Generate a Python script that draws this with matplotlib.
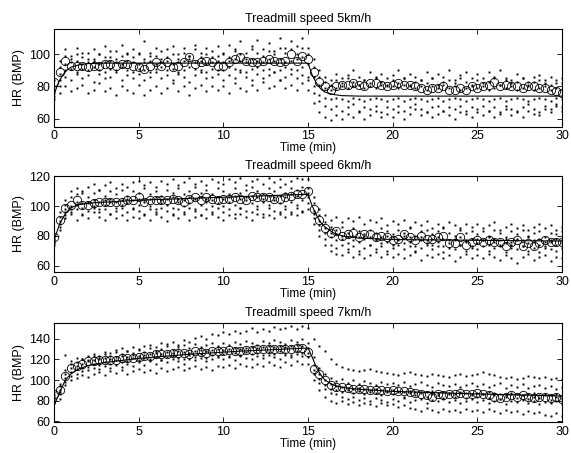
import numpy as np
import matplotlib
matplotlib.use("Agg")
import matplotlib.pyplot as plt

plt.rcParams["font.family"] = ["Liberation Sans", "DejaVu Sans"]

# sample times: one reading every 20 s over the 30 min session
time_min = np.arange(91) / 3.0

speeds = ["5km/h", "6km/h", "7km/h"]

# ---- 5 km/h -------------------------------------------------------------
hr5_subjects = [
    [84, 96, 103, 99, 104, 101, 97, 103, 100, 105, 98, 102, 106, 100, 103,
     101, 108, 99, 104, 97, 103, 105, 100, 104, 99, 106, 101, 104, 98, 105,
     100, 106, 103, 108, 101, 105, 109, 103, 107, 102, 110, 104, 108, 105, 110,
     104, 97, 90, 86, 84, 88, 85, 87, 90, 86, 84, 89, 86, 88, 85,
     87, 90, 85, 88, 86, 84, 89, 85, 88, 86, 90, 84, 87, 89, 85,
     88, 85, 89, 86, 90, 85, 84, 88, 85, 83, 86, 87, 84, 86, 82, 85],
    [80, 92, 99, 97, 100, 98, 101, 97, 100, 98, 102, 97, 99, 101, 98,
     100, 97, 101, 99, 102, 98, 100, 97, 101, 99, 103, 98, 100, 102, 99,
     101, 98, 102, 100, 97, 103, 101, 99, 102, 100, 104, 101, 103, 100, 104,
     100, 92, 86, 83, 81, 84, 82, 85, 83, 81, 84, 82, 85, 83, 81,
     84, 82, 85, 81, 83, 84, 82, 85, 81, 83, 84, 82, 85, 83, 81,
     84, 82, 83, 85, 81, 84, 82, 83, 85, 81, 83, 84, 82, 81, 84, 82],
    [78, 88, 94, 95, 96, 94, 95, 96, 94, 95, 96, 95, 94, 96, 95,
     94, 95, 96, 94, 95, 96, 94, 95, 96, 97, 95, 96, 94, 95, 96,
     95, 96, 97, 96, 95, 97, 96, 95, 97, 96, 97, 95, 96, 97, 98,
     94, 86, 81, 79, 78, 79, 80, 79, 80, 81, 79, 80, 79, 81, 80,
     80, 79, 81, 80, 79, 80, 78, 80, 79, 81, 79, 80, 78, 79, 80,
     79, 80, 78, 79, 81, 79, 80, 78, 79, 80, 78, 79, 80, 78, 79, 78],
    [76, 84, 90, 91, 89, 91, 90, 92, 90, 89, 91, 90, 92, 90, 89,
     91, 90, 89, 91, 92, 90, 91, 89, 90, 92, 91, 90, 89, 91, 90,
     90, 92, 91, 90, 89, 91, 92, 90, 91, 89, 90, 92, 91, 90, 92,
     86, 80, 75, 73, 72, 73, 72, 71, 73, 72, 71, 72, 73, 72, 71,
     72, 73, 71, 72, 73, 72, 71, 72, 73, 71, 72, 73, 72, 71, 72,
     73, 72, 71, 72, 73, 71, 72, 73, 72, 71, 72, 73, 72, 71, 73, 72],
    [74, 80, 86, 84, 88, 85, 87, 83, 88, 85, 86, 89, 84, 87, 85,
     88, 84, 86, 89, 85, 87, 84, 88, 86, 83, 87, 89, 85, 86, 88,
     84, 87, 85, 89, 86, 84, 88, 85, 87, 89, 84, 86, 88, 85, 87,
     84, 76, 71, 68, 66, 68, 65, 67, 69, 65, 67, 66, 68, 64, 67,
     66, 68, 65, 67, 69, 66, 64, 67, 68, 65, 67, 66, 68, 65, 67,
     66, 68, 65, 67, 64, 68, 66, 65, 67, 69, 66, 64, 68, 66, 69, 67],
    [72, 76, 80, 77, 79, 81, 76, 78, 82, 77, 79, 75, 80, 78, 76,
     81, 75, 78, 80, 76, 79, 82, 77, 80, 75, 79, 81, 77, 80, 78,
     80, 76, 82, 79, 77, 81, 78, 83, 79, 80, 84, 79, 81, 78, 82,
     78, 70, 64, 61, 59, 62, 60, 63, 61, 64, 60, 62, 65, 61, 63,
     61, 64, 60, 63, 66, 62, 64, 61, 63, 65, 62, 60, 64, 63, 61,
     64, 62, 65, 61, 63, 66, 62, 64, 61, 65, 63, 62, 66, 64, 68, 65],
]
hr5_mean = [83, 89, 96, 93, 93, 93, 92, 93, 93, 94, 94, 93, 94, 94, 93,
            92, 91, 93, 95, 93, 95, 92, 93, 95, 98, 94, 95, 96, 95, 93,
            93, 95, 97, 98, 96, 95, 95, 96, 97, 96, 95, 96, 100, 96, 99,
            97, 89, 83, 80, 78, 80, 81, 81, 82, 81, 80, 82, 82, 81, 80,
            81, 82, 81, 81, 80, 79, 78, 79, 79, 80, 78, 78, 79, 78, 80,
            79, 80, 81, 83, 80, 81, 80, 80, 79, 80, 80, 79, 79, 78, 77, 76]
fit5_t = [0, 0.25, 0.5, 0.75, 1, 1.5, 2, 3, 15, 15.25, 15.5, 15.75, 16, 16.5, 17, 18, 20, 30]
fit5_hr = [75, 82, 87, 90, 92, 93.5, 94.2, 94.5, 94.5, 87, 82, 78.5, 76.5, 75, 74.3, 74, 74, 74]

# ---- 6 km/h -------------------------------------------------------------
hr6_subjects = [
    [80, 96, 104, 110, 112, 109, 113, 115, 111, 114, 116, 112, 115, 113, 116,
     117, 114, 116, 113, 117, 115, 118, 114, 116, 119, 115, 117, 114, 118, 116,
     115, 118, 116, 119, 114, 117, 118, 115, 119, 116, 118, 115, 117, 119, 118,
     118, 106, 98, 94, 91, 93, 89, 92, 90, 93, 88, 91, 89, 92, 87,
     90, 88, 91, 86, 89, 87, 90, 85, 88, 86, 89, 87, 85, 88, 86,
     88, 85, 87, 89, 84, 86, 88, 85, 87, 84, 86, 88, 85, 87, 84, 86],
    [78, 93, 101, 106, 108, 110, 106, 109, 111, 107, 110, 108, 111, 107, 110,
     109, 112, 108, 110, 107, 111, 109, 112, 108, 110, 113, 109, 111, 108, 112,
     110, 108, 112, 109, 111, 113, 110, 108, 112, 110, 113, 109, 112, 111, 113,
     112, 102, 94, 89, 86, 84, 86, 82, 85, 83, 81, 84, 82, 85, 83,
     81, 84, 82, 85, 80, 83, 84, 81, 83, 85, 82, 80, 84, 82, 83,
     81, 83, 80, 84, 82, 79, 83, 81, 84, 80, 82, 83, 79, 82, 81, 83],
    [77, 90, 98, 100, 103, 102, 103, 104, 103, 104, 105, 103, 104, 105, 104,
     105, 104, 105, 106, 104, 105, 106, 105, 104, 106, 105, 106, 105, 104, 106,
     105, 106, 107, 105, 106, 107, 106, 105, 107, 106, 107, 106, 108, 107, 108,
     109, 97, 90, 85, 82, 81, 80, 79, 80, 79, 80, 79, 78, 79, 80,
     79, 78, 80, 79, 78, 79, 77, 78, 79, 78, 77, 78, 79, 77, 78,
     78, 77, 79, 78, 77, 78, 76, 78, 77, 79, 77, 78, 76, 77, 78, 77],
    [76, 88, 96, 98, 101, 99, 102, 100, 98, 101, 103, 99, 101, 102, 99,
     101, 103, 100, 98, 102, 101, 99, 103, 100, 102, 98, 101, 103, 100, 102,
     100, 103, 101, 99, 104, 102, 100, 103, 101, 104, 102, 100, 103, 101, 104,
     106, 95, 87, 82, 79, 77, 78, 75, 77, 76, 78, 74, 77, 75, 76,
     74, 77, 75, 76, 73, 77, 75, 74, 76, 73, 75, 77, 74, 76, 73,
     75, 77, 74, 76, 73, 75, 74, 77, 73, 75, 76, 74, 72, 76, 74, 75],
    [75, 86, 94, 96, 98, 95, 97, 99, 96, 98, 95, 97, 99, 96, 98,
     97, 95, 98, 96, 99, 97, 95, 98, 96, 99, 97, 94, 98, 96, 99,
     96, 98, 95, 99, 97, 96, 98, 95, 99, 97, 95, 98, 96, 99, 97,
     102, 92, 84, 78, 74, 72, 74, 71, 73, 70, 72, 74, 71, 73, 70,
     72, 74, 71, 73, 70, 72, 74, 71, 73, 69, 72, 71, 74, 70, 72,
     71, 73, 70, 72, 74, 69, 72, 71, 73, 70, 72, 69, 73, 71, 70, 72],
    [74, 84, 92, 95, 91, 94, 92, 96, 93, 91, 95, 92, 94, 91, 93,
     92, 94, 91, 95, 93, 90, 94, 92, 95, 91, 93, 94, 92, 95, 93,
     91, 94, 92, 95, 93, 91, 95, 93, 94, 92, 96, 93, 95, 94, 96,
     98, 88, 80, 74, 70, 68, 67, 69, 66, 68, 65, 67, 69, 66, 68,
     66, 68, 65, 67, 69, 64, 67, 66, 68, 65, 67, 63, 66, 68, 65,
     67, 65, 68, 66, 64, 67, 65, 62, 66, 68, 64, 66, 67, 63, 66, 65],
]
hr6_mean = [79, 91, 99, 101, 104, 101, 101, 102, 103, 103, 103, 103, 103, 104, 104,
            106, 103, 104, 104, 104, 104, 105, 104, 103, 105, 106, 104, 106, 105, 104,
            105, 105, 106, 105, 104, 107, 106, 106, 106, 105, 105, 106, 107, 108, 108,
            110, 98, 91, 85, 82, 83, 80, 81, 82, 79, 81, 81, 79, 80, 79,
            77, 78, 81, 79, 77, 80, 78, 78, 79, 80, 75, 75, 79, 74, 76,
            77, 76, 77, 76, 76, 73, 76, 77, 73, 75, 73, 75, 77, 76, 76, 76]
fit6_t = [0, 0.33, 0.67, 1, 1.5, 2, 5, 10, 15, 15.25, 15.5, 15.75, 16, 16.5, 17, 18, 20, 25, 30]
fit6_hr = [77, 88, 95, 99, 101, 102, 104, 106, 108, 100, 94, 89, 86, 82, 80, 78.5, 77.5, 77, 76.5]

# ---- 7 km/h -------------------------------------------------------------
hr7_subjects = [
    [84, 96, 124, 118, 121, 120, 123, 125, 123, 127, 126, 129, 131, 128, 132,
     130, 133, 134, 132, 136, 135, 137, 134, 139, 137, 141, 143, 140, 145, 144,
     147, 145, 148, 146, 148, 150, 147, 149, 148, 151, 149, 150, 152, 149, 152,
     150, 140, 133, 128, 120, 116, 113, 111, 110, 109, 110, 111, 109, 108, 107,
     106, 105, 107, 108, 106, 105, 104, 106, 105, 104, 103, 105, 106, 104, 105,
     106, 108, 106, 105, 103, 102, 103, 101, 102, 104, 103, 102, 103, 101, 102, 101],
    [88, 94, 110, 116, 117, 120, 119, 123, 121, 125, 123, 127, 125, 128, 126,
     129, 127, 131, 128, 130, 133, 129, 132, 134, 131, 135, 132, 134, 136, 133,
     136, 134, 137, 135, 138, 136, 134, 138, 136, 139, 137, 135, 139, 137, 140,
     136, 122, 112, 106, 102, 99, 101, 97, 100, 96, 99, 97, 95, 98, 96,
     97, 95, 98, 94, 96, 98, 95, 93, 97, 95, 94, 96, 93, 95, 97,
     94, 96, 93, 95, 97, 92, 95, 93, 96, 92, 94, 95, 92, 94, 91, 93],
    [85, 90, 106, 112, 114, 116, 118, 119, 120, 121, 120, 122, 123, 122, 124,
     123, 124, 125, 126, 125, 127, 126, 128, 127, 126, 128, 129, 128, 129, 130,
     129, 130, 131, 130, 131, 132, 131, 132, 133, 132, 133, 132, 133, 134, 133,
     131, 115, 106, 100, 96, 94, 93, 92, 91, 92, 91, 90, 91, 90, 89,
     90, 89, 88, 89, 88, 87, 88, 89, 87, 88, 87, 86, 88, 87, 86,
     87, 86, 88, 87, 86, 85, 87, 86, 85, 86, 87, 85, 86, 85, 86, 84],
    [82, 88, 102, 108, 111, 112, 113, 116, 115, 117, 116, 119, 117, 118, 121,
     119, 121, 120, 122, 119, 122, 123, 121, 120, 124, 122, 125, 121, 124, 123,
     125, 123, 126, 124, 127, 125, 126, 124, 127, 125, 128, 126, 124, 128, 126,
     126, 110, 101, 95, 91, 90, 88, 90, 87, 89, 86, 88, 87, 85, 88,
     86, 88, 84, 87, 85, 88, 84, 86, 85, 83, 86, 84, 87, 83, 85,
     84, 86, 83, 85, 82, 84, 86, 83, 85, 82, 84, 83, 85, 81, 84, 82],
    [80, 86, 98, 104, 106, 109, 110, 112, 111, 114, 112, 115, 113, 116, 114,
     117, 115, 118, 116, 119, 117, 120, 118, 116, 120, 119, 121, 118, 120, 122,
     120, 122, 119, 123, 121, 120, 123, 121, 124, 122, 120, 124, 122, 125, 123,
     122, 106, 97, 91, 87, 86, 84, 82, 84, 81, 83, 80, 83, 81, 79,
     82, 80, 83, 79, 81, 82, 78, 81, 80, 82, 79, 81, 78, 80, 82,
     79, 81, 78, 80, 82, 77, 80, 79, 81, 78, 80, 77, 79, 78, 80, 77],
    [78, 82, 95, 100, 102, 105, 103, 106, 108, 105, 109, 107, 110, 106, 109,
     111, 108, 110, 107, 112, 109, 111, 113, 110, 112, 114, 111, 113, 110, 114,
     113, 115, 112, 116, 114, 113, 116, 114, 117, 115, 113, 117, 115, 118, 116,
     116, 100, 90, 84, 80, 78, 80, 77, 79, 76, 78, 77, 75, 78, 76,
     77, 74, 76, 73, 72, 70, 73, 71, 69, 72, 70, 71, 69, 72, 70,
     71, 69, 72, 70, 68, 71, 69, 70, 67, 70, 68, 69, 66, 65, 68, 65],
]
hr7_mean = [86, 90, 104, 112, 114, 116, 118, 118, 119, 119, 119, 119, 121, 121, 121,
            122, 123, 123, 125, 125, 125, 126, 126, 126, 125, 128, 127, 126, 128, 128,
            128, 129, 128, 128, 129, 129, 130, 130, 130, 130, 130, 130, 130, 131, 131,
            127, 111, 106, 100, 95, 93, 93, 92, 91, 91, 91, 90, 90, 90, 89,
            90, 89, 89, 88, 87, 86, 85, 84, 86, 85, 86, 86, 87, 86, 86,
            87, 86, 85, 84, 83, 84, 85, 84, 85, 84, 83, 84, 84, 83, 84, 82]
fit7_t = [0, 0.33, 0.67, 1, 1.5, 2, 3, 5, 8, 11, 15, 15.25, 15.5, 15.75, 16, 16.5, 17, 18, 20, 25, 30]
fit7_hr = [75, 88, 100, 106, 111, 114, 117, 121, 125, 128, 131, 122, 112, 105, 100, 95, 93, 91, 89, 86.5, 84.5]

panels = [
    (hr5_subjects, hr5_mean, fit5_t, fit5_hr, (55, 115.5), [60, 80, 100]),
    (hr6_subjects, hr6_mean, fit6_t, fit6_hr, (55.5, 120.5), [60, 80, 100, 120]),
    (hr7_subjects, hr7_mean, fit7_t, fit7_hr, (59, 155), [60, 80, 100, 120, 140]),
]

fig = plt.figure(figsize=(5.71, 4.53), dpi=100)
rects = [
    [0.0946, 0.7203, 0.8897, 0.2150],
    [0.0946, 0.3990, 0.8897, 0.2132],
    [0.0946, 0.0678, 0.8897, 0.2185],
]

for rect, speed, (subjects, mean_hr, ft, fhr, ylim, yticks) in zip(rects, speeds, panels):
    ax = fig.add_axes(rect)
    for row in subjects:
        ax.plot(time_min, row, linestyle="none", marker="s", markersize=1.4,
                color="black", markeredgewidth=0)
    ax.plot(time_min, mean_hr, linestyle="none", marker="o", markersize=6,
            markerfacecolor="none", markeredgecolor="black", markeredgewidth=0.6)
    ax.plot(ft, fhr, color="black", linewidth=0.8)

    ax.set_xlim(0, 30)
    ax.set_ylim(*ylim)
    ax.set_xticks([0, 5, 10, 15, 20, 25, 30])
    ax.set_yticks(yticks)
    ax.tick_params(direction="in", top=True, right=True, length=3.5, width=0.6,
                   labelsize=9, pad=2.5)
    for spine in ax.spines.values():
        spine.set_linewidth(0.8)
    ax.set_xlabel("Time (min)", fontsize=8.5, labelpad=0)
    ax.set_ylabel("HR (BMP)", fontsize=9, labelpad=3)
    ax.set_title("Treadmill speed " + speed, fontsize=9, pad=5)

fig.savefig("out.png", dpi=100)
